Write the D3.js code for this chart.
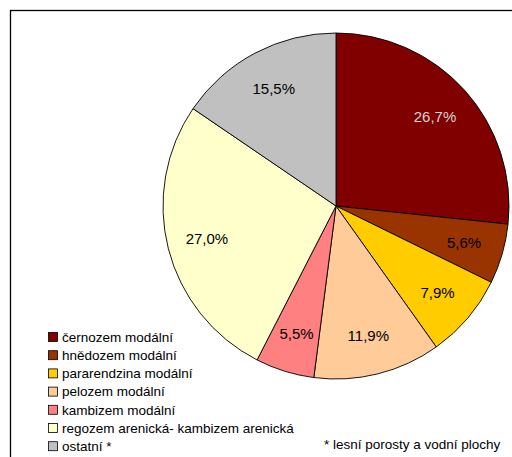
<!DOCTYPE html>
<html>
<head>
<meta charset="utf-8">
<script src="https://cdn.jsdelivr.net/npm/d3@7"></script>
<style>
  html, body { margin: 0; padding: 0; background: #fff; }
  svg { display: block; }
</style>
</head>
<body>
<svg id="chart" width="512" height="457"></svg>
<script>
// Soil types and their share of the area (%)
const categories = [
  "černozem modální",
  "hnědozem modální",
  "pararendzina modální",
  "pelozem modální",
  "kambizem modální",
  "regozem arenická- kambizem arenická",
  "ostatní *"
];
const shares = [26.7, 5.6, 7.9, 11.9, 5.5, 27.0, 15.5];
const shareLabels = ["26,7%", "5,6%", "7,9%", "11,9%", "5,5%", "27,0%", "15,5%"];
const colors = ["#800000", "#993300", "#FFCC00", "#FFCC99", "#FF8080", "#FFFFCC", "#C0C0C0"];
const labelColors = ["#D4D4D4", "#000", "#000", "#000", "#000", "#000", "#000"];
const footnote = "* lesní porosty a vodní plochy";

const svg = d3.select("#chart");
const font = "'Liberation Sans', Arial, sans-serif";

// chart area frame (extends past the right and bottom edges)
svg.append("rect")
  .attr("x", 10.5).attr("y", 10.5)
  .attr("width", 520).attr("height", 470)
  .attr("fill", "#fff")
  .attr("stroke", "#000").attr("stroke-width", 1.3);

const cx = 336, cy = 206, r = 173;

const pie = d3.pie().sort(null).value(d => d)(shares);
const arc = d3.arc().innerRadius(0).outerRadius(r);
const labelArc = d3.arc().innerRadius(r * 0.77).outerRadius(r * 0.77);

const g = svg.append("g").attr("transform", `translate(${cx},${cy})`);

g.selectAll("path.slice")
  .data(pie)
  .join("path")
  .attr("class", "slice")
  .attr("d", arc)
  .attr("fill", (d, i) => colors[i])
  .attr("stroke", "#000")
  .attr("stroke-width", 0.9)
  .attr("stroke-linejoin", "round");

g.selectAll("text.val")
  .data(pie)
  .join("text")
  .attr("class", "val")
  .attr("transform", d => `translate(${labelArc.centroid(d)})`)
  .attr("text-anchor", "middle")
  .attr("dy", "0.36em")
  .attr("font-family", font)
  .attr("font-size", 15)
  .attr("fill", (d, i) => labelColors[i])
  .text((d, i) => shareLabels[i]);

// legend
const legend = svg.append("g").attr("transform", "translate(48,337)");
const rowH = 18.2;
const rows = legend.selectAll("g.row")
  .data(categories)
  .join("g")
  .attr("class", "row")
  .attr("transform", (d, i) => `translate(0,${i * rowH})`);

rows.append("rect")
  .attr("x", 0.5).attr("y", -4.5)
  .attr("width", 9).attr("height", 9)
  .attr("fill", (d, i) => colors[i])
  .attr("stroke", "#000").attr("stroke-width", 0.8);

rows.append("text")
  .attr("x", 14).attr("y", 0)
  .attr("dy", "0.36em")
  .attr("font-family", font)
  .attr("font-size", 13.5)
  .attr("fill", "#000")
  .text(d => d);

svg.append("text")
  .attr("x", 324).attr("y", 444)
  .attr("dy", "0.36em")
  .attr("font-family", font)
  .attr("font-size", 13.5)
  .attr("fill", "#000")
  .text(footnote);
</script>
</body>
</html>
